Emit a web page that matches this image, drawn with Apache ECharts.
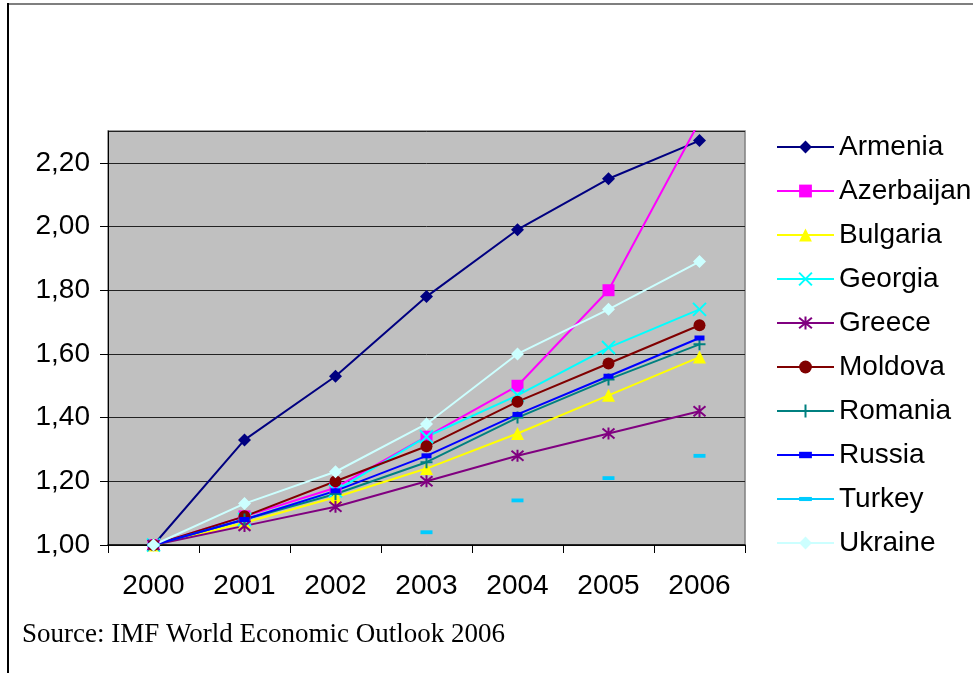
<!DOCTYPE html>
<html>
<head>
<meta charset="utf-8">
<script src="https://cdn.jsdelivr.net/npm/echarts@6/dist/echarts.min.js"></script>
<style>
html,body{margin:0;padding:0;background:#fff;}
#chart{width:973px;height:673px;}
</style>
</head>
<body>
<div id="chart"></div>
<script>
const years = ['2000','2001','2002','2003','2004','2005','2006'];
const armenia    = [1.00, 1.33, 1.53, 1.78, 1.99, 2.15, 2.27];
const azerbaijan = [1.00, 1.09, 1.18, 1.34, 1.50, 1.80, 2.33];
const bulgaria   = [1.00, 1.07, 1.15, 1.24, 1.35, 1.47, 1.59];
const georgia    = [1.00, 1.08, 1.17, 1.34, 1.47, 1.62, 1.74];
const greece     = [1.00, 1.06, 1.12, 1.20, 1.28, 1.35, 1.42];
const moldova    = [1.00, 1.09, 1.20, 1.31, 1.45, 1.57, 1.69];
const romania    = [1.00, 1.08, 1.16, 1.26, 1.40, 1.52, 1.63];
const russia     = [1.00, 1.08, 1.17, 1.28, 1.41, 1.53, 1.65];
const turkey     = [1.00, 0.93, 0.99, 1.04, 1.14, 1.21, 1.28];
const ukraine    = [1.00, 1.13, 1.23, 1.38, 1.60, 1.74, 1.89];
const sourceText = 'Source: IMF World Economic Outlook 2006';

const SANS = "'Liberation Sans', Arial, sans-serif";
const SERIF = "'Liberation Serif', 'Times New Roman', serif";

const X_PATH = 'path://M0,0L10,10M10,0L0,10';
const STAR_PATH = 'path://M0,0L10,10M10,0L0,10M5,-1L5,11';
const PLUS_PATH = 'path://M5,0L5,10M0,5L10,5';
const RUSSIA_DASH = 'path://M0,0M10,10M0,2.5L10,2.5L10,7.5L0,7.5Z';
const TURKEY_DASH = 'path://M0,0M10,10M0,3.4L10,3.4L10,6.6L0,6.6Z';

function mk(name, data, color, symbol, size, extra) {
  const s = {
    name: name,
    type: 'line',
    data: data,
    symbol: symbol,
    symbolSize: size,
    showAllSymbol: true,
    lineStyle: {color: color, width: 2},
    itemStyle: {color: color},
    emphasis: {disabled: true},
    z: 2
  };
  return Object.assign(s, extra || {});
}
const strokeStyle = c => ({itemStyle: {color: c, borderColor: c, borderWidth: 2}});

const series = [
  mk('Armenia', armenia, '#000080', 'diamond', 13),
  mk('Azerbaijan', azerbaijan, '#FF00FF', 'rect', 12),
  mk('Bulgaria', bulgaria, '#FFFF00', 'triangle', 13),
  mk('Georgia', georgia, '#00FFFF', X_PATH, 13, strokeStyle('#00FFFF')),
  mk('Greece', greece, '#800080', STAR_PATH, 12, strokeStyle('#800080')),
  mk('Moldova', moldova, '#800000', 'circle', 12),
  mk('Romania', romania, '#008080', PLUS_PATH, 12, strokeStyle('#008080')),
  mk('Russia', russia, '#0000FF', RUSSIA_DASH, 10),
  mk('Turkey', turkey, '#00CCFF', TURKEY_DASH, 12, {lineStyle: {color: '#00CCFF', width: 2, opacity: 0}}),
  mk('Ukraine', ukraine, '#CCFFFF', 'diamond', 13)
];

const legendData = series.map(s => s.name === 'Turkey'
  ? {name: 'Turkey', lineStyle: {color: '#00CCFF', width: 2, opacity: 1}}
  : {name: s.name});

const chart = echarts.init(document.getElementById('chart'), null, {renderer: 'canvas'});
chart.setOption({
  animation: false,
  backgroundColor: '#ffffff',
  grid: {
    left: 108, right: 228, top: 131, bottom: 128,
    show: true, backgroundColor: '#C0C0C0', borderColor: '#808080', borderWidth: 1.5
  },
  legend: {
    orient: 'vertical',
    left: 776, top: 132, padding: 0,
    itemWidth: 57, itemHeight: 16, itemGap: 14,
    data: legendData,
    textStyle: {fontFamily: SANS, fontSize: 28, color: '#000', lineHeight: 30},
    selectedMode: false
  },
  xAxis: {
    type: 'category',
    data: years,
    boundaryGap: true,
    axisLine: {lineStyle: {color: '#000', width: 1.5}},
    axisTick: {show: true, inside: false, length: 8, lineStyle: {color: '#000', width: 1}},
    axisLabel: {fontFamily: SANS, fontSize: 28, color: '#000', margin: 27}
  },
  yAxis: {
    type: 'value',
    min: 1.0, max: 2.3, interval: 0.2,
    axisLine: {show: true, lineStyle: {color: '#000', width: 1}},
    axisTick: {show: true, inside: false, length: 8, lineStyle: {color: '#000', width: 1}},
    axisLabel: {
      fontFamily: SANS, fontSize: 28, color: '#000', margin: 18,
      showMaxLabel: false,
      formatter: v => Math.abs(v - 2.3) < 1e-6 ? '' : v.toFixed(2).replace('.', ',')
    },
    splitLine: {show: true, lineStyle: {color: '#222', width: 1}}
  },
  graphic: [
    {type: 'line', shape: {x1: 7, y1: 4, x2: 973, y2: 4}, style: {stroke: '#555', lineWidth: 1.5}, silent: true, z: 100},
    {type: 'line', shape: {x1: 8, y1: 3, x2: 8, y2: 673}, style: {stroke: '#000', lineWidth: 2}, silent: true, z: 100},
    {type: 'text', left: 22, top: 621, style: {text: sourceText, fontFamily: SERIF, fontSize: 27, fill: '#000'}, silent: true}
  ],
  series: series
});
</script>
</body>
</html>
